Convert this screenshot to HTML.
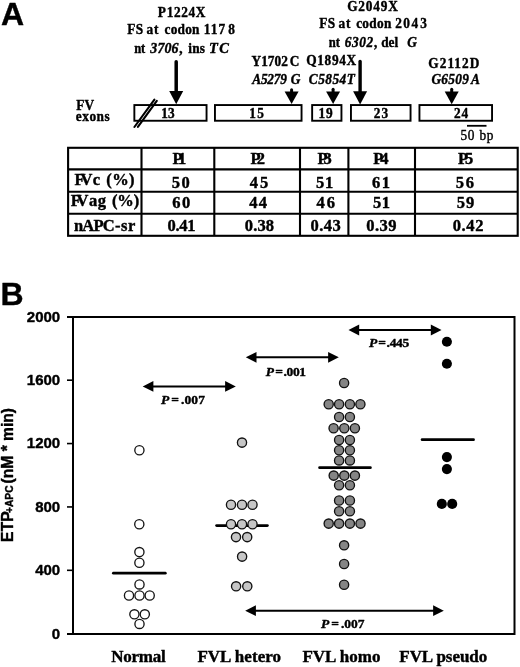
<!DOCTYPE html>
<html><head><meta charset="utf-8"><style>
html,body{margin:0;padding:0;background:#fff;width:520px;height:667px;overflow:hidden}
svg{display:block;filter:grayscale(100%) blur(0.3px)}
text{stroke:#000;stroke-width:0.4px;stroke-linejoin:round}
</style></head><body>
<svg width="520" height="667" viewBox="0 0 520 667">
<rect width="520" height="667" fill="#fff"/>
<text x="0.89" y="25.40" style="font-family:'Liberation Sans',sans-serif;font-weight:bold;font-style:normal;font-size:32px" fill="#000">A</text>
<text transform="translate(157.87,17.30) scale(0.92,1)" style="font-family:'Liberation Serif',serif;font-weight:bold;font-style:normal;font-size:14.5px;letter-spacing:0.69px" fill="#000">P1224X</text>
<text transform="translate(127.17,34.00) scale(0.92,1)" style="font-family:'Liberation Serif',serif;font-weight:bold;font-style:normal;font-size:14.5px;letter-spacing:0.35px" fill="#000">FS</text>
<text transform="translate(146.50,34.00) scale(0.92,1)" style="font-family:'Liberation Serif',serif;font-weight:bold;font-style:normal;font-size:14.5px;letter-spacing:0.94px" fill="#000">at</text>
<text transform="translate(164.54,34.00) scale(0.92,1)" style="font-family:'Liberation Serif',serif;font-weight:bold;font-style:normal;font-size:14.5px;letter-spacing:0.23px" fill="#000">codon</text>
<text transform="translate(203.81,34.00) scale(0.92,1)" style="font-family:'Liberation Serif',serif;font-weight:bold;font-style:normal;font-size:14.5px;letter-spacing:1.13px" fill="#000">117</text>
<text transform="translate(228.34,34.00) scale(0.92,1)" style="font-family:'Liberation Serif',serif;font-weight:bold;font-style:normal;font-size:14.5px" fill="#000">8</text>
<text transform="translate(134.17,52.50) scale(0.87,1)" style="font-family:'Liberation Serif',serif;font-weight:bold;font-style:normal;font-size:14.5px;letter-spacing:-0.13px" fill="#000">nt</text>
<text transform="translate(150.32,52.50) scale(0.96,1)" style="font-family:'Liberation Serif',serif;font-weight:bold;font-style:italic;font-size:14.5px;letter-spacing:0.12px" fill="#000">3706</text>
<text transform="translate(179.33,52.50) scale(0.92,1)" style="font-family:'Liberation Serif',serif;font-weight:bold;font-style:normal;font-size:14.5px" fill="#000">,</text>
<text transform="translate(188.31,52.50) scale(0.92,1)" style="font-family:'Liberation Serif',serif;font-weight:bold;font-style:normal;font-size:14.5px;letter-spacing:0.21px" fill="#000">ins</text>
<text x="208.94" y="52.50" style="font-family:'Liberation Serif',serif;font-weight:bold;font-style:italic;font-size:14.5px;letter-spacing:1.57px" fill="#000">TC</text>
<text transform="translate(347.17,11.30) scale(0.92,1)" style="font-family:'Liberation Serif',serif;font-weight:bold;font-style:normal;font-size:14.5px;letter-spacing:0.87px" fill="#000">G2049X</text>
<text transform="translate(319.17,27.70) scale(0.92,1)" style="font-family:'Liberation Serif',serif;font-weight:bold;font-style:normal;font-size:14.5px;letter-spacing:0.35px" fill="#000">FS</text>
<text transform="translate(338.50,27.70) scale(0.92,1)" style="font-family:'Liberation Serif',serif;font-weight:bold;font-style:normal;font-size:14.5px;letter-spacing:0.94px" fill="#000">at</text>
<text transform="translate(356.14,27.70) scale(0.92,1)" style="font-family:'Liberation Serif',serif;font-weight:bold;font-style:normal;font-size:14.5px;letter-spacing:0.33px" fill="#000">codon</text>
<text transform="translate(395.23,27.70) scale(0.92,1)" style="font-family:'Liberation Serif',serif;font-weight:bold;font-style:normal;font-size:14.5px;letter-spacing:1.57px" fill="#000">204</text>
<text transform="translate(420.28,27.70) scale(0.92,1)" style="font-family:'Liberation Serif',serif;font-weight:bold;font-style:normal;font-size:14.5px" fill="#000">3</text>
<text transform="translate(328.87,46.70) scale(0.87,1)" style="font-family:'Liberation Serif',serif;font-weight:bold;font-style:normal;font-size:14.5px;letter-spacing:-0.02px" fill="#000">nt</text>
<text transform="translate(344.74,46.70) scale(0.92,1)" style="font-family:'Liberation Serif',serif;font-weight:bold;font-style:italic;font-size:14.5px;letter-spacing:0.68px" fill="#000">6302</text>
<text transform="translate(374.03,46.70) scale(0.92,1)" style="font-family:'Liberation Serif',serif;font-weight:bold;font-style:normal;font-size:14.5px" fill="#000">,</text>
<text transform="translate(381.18,46.70) scale(0.92,1)" style="font-family:'Liberation Serif',serif;font-weight:bold;font-style:normal;font-size:14.5px;letter-spacing:0.01px" fill="#000">del</text>
<text transform="translate(407.24,46.70) scale(0.92,1)" style="font-family:'Liberation Serif',serif;font-weight:bold;font-style:italic;font-size:14.5px" fill="#000">G</text>
<text transform="translate(251.57,66.00) scale(0.92,1)" style="font-family:'Liberation Serif',serif;font-weight:bold;font-style:normal;font-size:14.5px;letter-spacing:-0.01px" fill="#000">Y1702</text>
<text transform="translate(289.87,66.00) scale(0.92,1)" style="font-family:'Liberation Serif',serif;font-weight:bold;font-style:normal;font-size:14.5px" fill="#000">C</text>
<text transform="translate(252.19,84.30) scale(0.92,1)" style="font-family:'Liberation Serif',serif;font-weight:bold;font-style:italic;font-size:14.5px;letter-spacing:-0.21px" fill="#000">A5279</text>
<text transform="translate(290.64,84.30) scale(0.92,1)" style="font-family:'Liberation Serif',serif;font-weight:bold;font-style:italic;font-size:14.5px" fill="#000">G</text>
<text transform="translate(306.27,65.00) scale(0.92,1)" style="font-family:'Liberation Serif',serif;font-weight:bold;font-style:normal;font-size:14.5px;letter-spacing:0.70px" fill="#000">Q1894X</text>
<text transform="translate(308.74,83.50) scale(0.92,1)" style="font-family:'Liberation Serif',serif;font-weight:bold;font-style:italic;font-size:14.5px;letter-spacing:0.54px" fill="#000">C5854T</text>
<text transform="translate(428.37,68.00) scale(0.92,1)" style="font-family:'Liberation Serif',serif;font-weight:bold;font-style:normal;font-size:14.5px;letter-spacing:1.09px" fill="#000">G2112D</text>
<text transform="translate(431.44,84.30) scale(0.92,1)" style="font-family:'Liberation Serif',serif;font-weight:bold;font-style:italic;font-size:14.5px;letter-spacing:0.29px" fill="#000">G6509</text>
<text transform="translate(470.99,84.30) scale(0.92,1)" style="font-family:'Liberation Serif',serif;font-weight:bold;font-style:italic;font-size:14.5px" fill="#000">A</text>
<text transform="translate(76.27,109.90) scale(0.92,1)" style="font-family:'Liberation Serif',serif;font-weight:bold;font-style:normal;font-size:14.5px;letter-spacing:0.08px" fill="#000">FV</text>
<text transform="translate(75.84,121.40) scale(0.92,1)" style="font-family:'Liberation Serif',serif;font-weight:bold;font-style:normal;font-size:14.5px;letter-spacing:0.54px" fill="#000">exons</text>
<text transform="translate(460.39,139.90) scale(0.92,1)" style="font-family:'Liberation Serif',serif;font-weight:normal;font-style:normal;font-size:14.5px;letter-spacing:0.85px" fill="#000">50 bp</text>
<rect x="134.35" y="105.05" width="72.19999999999999" height="15.700000000000008" fill="none" stroke="#000" stroke-width="1.9"/>
<rect x="214.95" y="105.05" width="86.6" height="15.700000000000008" fill="none" stroke="#000" stroke-width="1.9"/>
<rect x="312.15" y="105.05" width="29.29999999999999" height="15.700000000000008" fill="none" stroke="#000" stroke-width="1.9"/>
<rect x="350.95" y="105.05" width="59.6" height="15.700000000000008" fill="none" stroke="#000" stroke-width="1.9"/>
<rect x="419.45" y="105.05" width="72.6" height="15.700000000000008" fill="none" stroke="#000" stroke-width="1.9"/>
<text transform="translate(161.21,118.40) scale(0.92,1)" style="font-family:'Liberation Serif',serif;font-weight:bold;font-style:normal;font-size:14.5px;letter-spacing:0.12px" fill="#000">13</text>
<text transform="translate(249.31,118.40) scale(0.92,1)" style="font-family:'Liberation Serif',serif;font-weight:bold;font-style:normal;font-size:14.5px;letter-spacing:1.49px" fill="#000">15</text>
<text transform="translate(318.51,118.40) scale(0.92,1)" style="font-family:'Liberation Serif',serif;font-weight:bold;font-style:normal;font-size:14.5px;letter-spacing:0.99px" fill="#000">19</text>
<text transform="translate(373.73,118.40) scale(0.92,1)" style="font-family:'Liberation Serif',serif;font-weight:bold;font-style:normal;font-size:14.5px;letter-spacing:1.19px" fill="#000">23</text>
<text transform="translate(454.03,118.40) scale(0.92,1)" style="font-family:'Liberation Serif',serif;font-weight:bold;font-style:normal;font-size:14.5px;letter-spacing:0.94px" fill="#000">24</text>
<line x1="134.4" y1="127" x2="154.4" y2="99.6" stroke="#000" stroke-width="2.1" stroke-linecap="round"/>
<line x1="137.9" y1="126.8" x2="156.8" y2="100.8" stroke="#000" stroke-width="2.1" stroke-linecap="round"/>
<line x1="176.2" y1="61.8" x2="176.2" y2="91.9" stroke="#000" stroke-width="3.5" stroke-linecap="round"/>
<polygon points="169.2,90.9 183.2,90.9 176.2,104.3" fill="#000"/>
<line x1="360.1" y1="61.5" x2="360.1" y2="92.3" stroke="#000" stroke-width="3.4" stroke-linecap="round"/>
<polygon points="353.1,91.3 367.1,91.3 360.1,104.4" fill="#000"/>
<line x1="291.6" y1="89.8" x2="291.6" y2="92.5" stroke="#000" stroke-width="3.0" stroke-linecap="round"/>
<polygon points="284.6,91.5 298.6,91.5 291.6,104" fill="#000"/>
<line x1="333.1" y1="89.3" x2="333.1" y2="92.5" stroke="#000" stroke-width="3.0" stroke-linecap="round"/>
<polygon points="326.1,91.5 340.1,91.5 333.1,104" fill="#000"/>
<line x1="451.7" y1="89.3" x2="451.7" y2="92.5" stroke="#000" stroke-width="3.0" stroke-linecap="round"/>
<polygon points="444.7,91.5 458.7,91.5 451.7,104.2" fill="#000"/>
<rect x="467" y="124.9" width="19.5" height="1.8" fill="#000"/>
<rect x="68.1" y="147.8" width="449.6" height="88.0" fill="none" stroke="#000" stroke-width="2.1"/>
<line x1="68.1" y1="169.4" x2="517.7" y2="169.4" stroke="#000" stroke-width="2.1" stroke-linecap="butt"/>
<line x1="68.1" y1="191.7" x2="517.7" y2="191.7" stroke="#000" stroke-width="2.1" stroke-linecap="butt"/>
<line x1="68.1" y1="213.8" x2="517.7" y2="213.8" stroke="#000" stroke-width="2.1" stroke-linecap="butt"/>
<line x1="141.5" y1="147.8" x2="141.5" y2="235.8" stroke="#000" stroke-width="2.1" stroke-linecap="butt"/>
<line x1="214.3" y1="147.8" x2="214.3" y2="235.8" stroke="#000" stroke-width="2.1" stroke-linecap="butt"/>
<line x1="300" y1="147.8" x2="300" y2="235.8" stroke="#000" stroke-width="2.1" stroke-linecap="butt"/>
<line x1="348.4" y1="147.8" x2="348.4" y2="235.8" stroke="#000" stroke-width="2.1" stroke-linecap="butt"/>
<line x1="415" y1="147.8" x2="415" y2="235.8" stroke="#000" stroke-width="2.1" stroke-linecap="butt"/>
<text x="172.39" y="163.80" style="font-family:'Liberation Serif',serif;font-weight:bold;font-style:normal;font-size:16.5px;letter-spacing:-4.43px" fill="#000">P1</text>
<text x="250.39" y="163.80" style="font-family:'Liberation Serif',serif;font-weight:bold;font-style:normal;font-size:16.5px;letter-spacing:-3.61px" fill="#000">P2</text>
<text x="317.49" y="163.80" style="font-family:'Liberation Serif',serif;font-weight:bold;font-style:normal;font-size:16.5px;letter-spacing:-4.04px" fill="#000">P3</text>
<text x="373.29" y="163.80" style="font-family:'Liberation Serif',serif;font-weight:bold;font-style:normal;font-size:16.5px;letter-spacing:-3.19px" fill="#000">P4</text>
<text x="458.09" y="163.80" style="font-family:'Liberation Serif',serif;font-weight:bold;font-style:normal;font-size:16.5px;letter-spacing:-3.18px" fill="#000">P5</text>
<text x="74.59" y="184.80" style="font-family:'Liberation Serif',serif;font-weight:bold;font-style:normal;font-size:16.5px;letter-spacing:-4.20px" fill="#000">FV</text>
<text x="92.84" y="184.80" style="font-family:'Liberation Serif',serif;font-weight:bold;font-style:normal;font-size:16.5px" fill="#000">c</text>
<text x="106.35" y="184.80" style="font-family:'Liberation Serif',serif;font-weight:bold;font-style:normal;font-size:16.5px;letter-spacing:0.30px" fill="#000">(%)</text>
<text x="70.69" y="206.30" style="font-family:'Liberation Serif',serif;font-weight:bold;font-style:normal;font-size:16.5px;letter-spacing:-4.30px" fill="#000">FV</text>
<text x="88.94" y="206.30" style="font-family:'Liberation Serif',serif;font-weight:bold;font-style:normal;font-size:16.5px;letter-spacing:0.45px" fill="#000">ag</text>
<text x="112.05" y="206.30" style="font-family:'Liberation Serif',serif;font-weight:bold;font-style:normal;font-size:16.5px;letter-spacing:-0.20px" fill="#000">(%)</text>
<text x="73.96" y="231.10" style="font-family:'Liberation Serif',serif;font-weight:bold;font-style:normal;font-size:16.5px;letter-spacing:-0.78px" fill="#000">nAPC</text>
<text x="115.08" y="231.10" style="font-family:'Liberation Serif',serif;font-weight:bold;font-style:normal;font-size:16.5px;letter-spacing:0.47px" fill="#000">-sr</text>
<text x="171.71" y="187.80" style="font-family:'Liberation Serif',serif;font-weight:bold;font-style:normal;font-size:16.5px;letter-spacing:1.61px" fill="#000">50</text>
<text x="249.75" y="187.80" style="font-family:'Liberation Serif',serif;font-weight:bold;font-style:normal;font-size:16.5px;letter-spacing:2.07px" fill="#000">45</text>
<text x="316.01" y="187.80" style="font-family:'Liberation Serif',serif;font-weight:bold;font-style:normal;font-size:16.5px;letter-spacing:0.67px" fill="#000">51</text>
<text x="371.94" y="187.80" style="font-family:'Liberation Serif',serif;font-weight:bold;font-style:normal;font-size:16.5px;letter-spacing:1.64px" fill="#000">61</text>
<text x="455.71" y="187.80" style="font-family:'Liberation Serif',serif;font-weight:bold;font-style:normal;font-size:16.5px;letter-spacing:1.89px" fill="#000">56</text>
<text x="172.34" y="208.10" style="font-family:'Liberation Serif',serif;font-weight:bold;font-style:normal;font-size:16.5px;letter-spacing:1.48px" fill="#000">60</text>
<text x="249.35" y="208.10" style="font-family:'Liberation Serif',serif;font-weight:bold;font-style:normal;font-size:16.5px;letter-spacing:1.06px" fill="#000">44</text>
<text x="316.45" y="208.10" style="font-family:'Liberation Serif',serif;font-weight:bold;font-style:normal;font-size:16.5px;letter-spacing:2.15px" fill="#000">46</text>
<text x="372.91" y="208.10" style="font-family:'Liberation Serif',serif;font-weight:bold;font-style:normal;font-size:16.5px;letter-spacing:0.67px" fill="#000">51</text>
<text x="456.71" y="208.10" style="font-family:'Liberation Serif',serif;font-weight:bold;font-style:normal;font-size:16.5px;letter-spacing:1.01px" fill="#000">59</text>
<text x="167.38" y="230.50" style="font-family:'Liberation Serif',serif;font-weight:bold;font-style:normal;font-size:16.5px;letter-spacing:-0.23px" fill="#000">0.41</text>
<text x="244.78" y="230.50" style="font-family:'Liberation Serif',serif;font-weight:bold;font-style:normal;font-size:16.5px;letter-spacing:0.14px" fill="#000">0.38</text>
<text x="310.58" y="230.50" style="font-family:'Liberation Serif',serif;font-weight:bold;font-style:normal;font-size:16.5px;letter-spacing:0.44px" fill="#000">0.43</text>
<text x="366.28" y="230.50" style="font-family:'Liberation Serif',serif;font-weight:bold;font-style:normal;font-size:16.5px;letter-spacing:0.46px" fill="#000">0.39</text>
<text x="452.78" y="230.50" style="font-family:'Liberation Serif',serif;font-weight:bold;font-style:normal;font-size:16.5px;letter-spacing:0.58px" fill="#000">0.42</text>
<text x="0.58" y="304.60" style="font-family:'Liberation Sans',sans-serif;font-weight:bold;font-style:normal;font-size:32px" fill="#000">B</text>
<rect x="73" y="317" width="441.5" height="317" fill="none" stroke="#000" stroke-width="2"/>
<line x1="67" y1="634" x2="73" y2="634" stroke="#000" stroke-width="2" stroke-linecap="butt"/>
<text x="51.85" y="638.50" style="font-family:'Liberation Sans',sans-serif;font-weight:bold;font-style:normal;font-size:15px" fill="#000">0</text>
<line x1="67" y1="570.32" x2="73" y2="570.32" stroke="#000" stroke-width="1.6" stroke-linecap="butt"/>
<text x="35.16" y="575.12" style="font-family:'Liberation Sans',sans-serif;font-weight:bold;font-style:normal;font-size:15px" fill="#000">400</text>
<line x1="67" y1="506.94" x2="73" y2="506.94" stroke="#000" stroke-width="1.6" stroke-linecap="butt"/>
<text x="35.16" y="511.74" style="font-family:'Liberation Sans',sans-serif;font-weight:bold;font-style:normal;font-size:15px" fill="#000">800</text>
<line x1="67" y1="443.56" x2="73" y2="443.56" stroke="#000" stroke-width="1.6" stroke-linecap="butt"/>
<text x="26.85" y="448.36" style="font-family:'Liberation Sans',sans-serif;font-weight:bold;font-style:normal;font-size:15px" fill="#000">1200</text>
<line x1="67" y1="380.18" x2="73" y2="380.18" stroke="#000" stroke-width="1.6" stroke-linecap="butt"/>
<text x="26.85" y="384.98" style="font-family:'Liberation Sans',sans-serif;font-weight:bold;font-style:normal;font-size:15px" fill="#000">1600</text>
<line x1="67" y1="317" x2="73" y2="317" stroke="#000" stroke-width="2" stroke-linecap="butt"/>
<text x="26.85" y="321.60" style="font-family:'Liberation Sans',sans-serif;font-weight:bold;font-style:normal;font-size:15px" fill="#000">2000</text>
<g transform="translate(12.9,542) rotate(-90)"><text x="0" y="0" style="font-family:'Liberation Sans',sans-serif;font-weight:bold;font-size:15.8px">ETP</text><text x="28.95" y="0.3" style="font-family:'Liberation Sans',sans-serif;font-weight:bold;font-size:10.25px">+APC</text><text x="58.6" y="0" style="font-family:'Liberation Sans',sans-serif;font-weight:bold;font-size:15.6px">(nM * min)</text></g>
<text x="111.19" y="661.50" style="font-family:'Liberation Serif',serif;font-weight:bold;font-style:normal;font-size:17px;letter-spacing:-0.25px" fill="#000">Normal</text>
<text x="197.39" y="661.50" style="font-family:'Liberation Serif',serif;font-weight:bold;font-style:normal;font-size:17px;letter-spacing:0.04px" fill="#000">FVL hetero</text>
<text x="302.39" y="661.50" style="font-family:'Liberation Serif',serif;font-weight:bold;font-style:normal;font-size:17px;letter-spacing:0.03px" fill="#000">FVL homo</text>
<text x="399.29" y="661.50" style="font-family:'Liberation Serif',serif;font-weight:bold;font-style:normal;font-size:17px;letter-spacing:-0.04px" fill="#000">FVL pseudo</text>
<line x1="113.4" y1="573.2" x2="165.3" y2="573.2" stroke="#000" stroke-width="2.8" stroke-linecap="round"/>
<line x1="216.6" y1="525.6" x2="267.4" y2="525.6" stroke="#000" stroke-width="2.8" stroke-linecap="round"/>
<line x1="319.6" y1="467.7" x2="370.4" y2="467.7" stroke="#000" stroke-width="2.8" stroke-linecap="round"/>
<line x1="422.1" y1="439.7" x2="473.5" y2="439.7" stroke="#000" stroke-width="2.8" stroke-linecap="round"/>
<circle cx="139.4" cy="450.3" r="4.6" fill="#fff" stroke="#151515" stroke-width="1.35"/>
<circle cx="139.3" cy="524.2" r="4.6" fill="#fff" stroke="#151515" stroke-width="1.35"/>
<circle cx="139.4" cy="552.1" r="4.6" fill="#fff" stroke="#151515" stroke-width="1.35"/>
<circle cx="139.4" cy="562.7" r="4.6" fill="#fff" stroke="#151515" stroke-width="1.35"/>
<circle cx="139.5" cy="584.4" r="4.6" fill="#fff" stroke="#151515" stroke-width="1.35"/>
<circle cx="129" cy="595.5" r="4.6" fill="#fff" stroke="#151515" stroke-width="1.35"/>
<circle cx="139.5" cy="595.5" r="4.6" fill="#fff" stroke="#151515" stroke-width="1.35"/>
<circle cx="149.7" cy="595.5" r="4.6" fill="#fff" stroke="#151515" stroke-width="1.35"/>
<circle cx="134.4" cy="614.3" r="4.6" fill="#fff" stroke="#151515" stroke-width="1.35"/>
<circle cx="144.8" cy="614.3" r="4.6" fill="#fff" stroke="#151515" stroke-width="1.35"/>
<circle cx="139.5" cy="623.9" r="4.6" fill="#fff" stroke="#151515" stroke-width="1.35"/>
<circle cx="242" cy="442.6" r="4.6" fill="#c6c6c6" stroke="#111" stroke-width="1.35"/>
<circle cx="231" cy="504.7" r="4.6" fill="#c6c6c6" stroke="#111" stroke-width="1.35"/>
<circle cx="242" cy="504.7" r="4.6" fill="#c6c6c6" stroke="#111" stroke-width="1.35"/>
<circle cx="252.5" cy="504.7" r="4.6" fill="#c6c6c6" stroke="#111" stroke-width="1.35"/>
<circle cx="231" cy="524.2" r="4.6" fill="#c6c6c6" stroke="#111" stroke-width="1.35"/>
<circle cx="242" cy="524.2" r="4.6" fill="#c6c6c6" stroke="#111" stroke-width="1.35"/>
<circle cx="252.5" cy="524.2" r="4.6" fill="#c6c6c6" stroke="#111" stroke-width="1.35"/>
<circle cx="236" cy="537.1" r="4.6" fill="#c6c6c6" stroke="#111" stroke-width="1.35"/>
<circle cx="247.2" cy="537.1" r="4.6" fill="#c6c6c6" stroke="#111" stroke-width="1.35"/>
<circle cx="242.1" cy="556.6" r="4.6" fill="#c6c6c6" stroke="#111" stroke-width="1.35"/>
<circle cx="236.1" cy="586.3" r="4.6" fill="#c6c6c6" stroke="#111" stroke-width="1.35"/>
<circle cx="247.3" cy="586.3" r="4.6" fill="#c6c6c6" stroke="#111" stroke-width="1.35"/>
<circle cx="344.1" cy="383" r="4.6" fill="#858585" stroke="#111" stroke-width="1.35"/>
<circle cx="328.7" cy="404.3" r="4.6" fill="#858585" stroke="#111" stroke-width="1.35"/>
<circle cx="339.1" cy="404.3" r="4.6" fill="#858585" stroke="#111" stroke-width="1.35"/>
<circle cx="349.9" cy="404.3" r="4.6" fill="#858585" stroke="#111" stroke-width="1.35"/>
<circle cx="360.4" cy="404.3" r="4.6" fill="#858585" stroke="#111" stroke-width="1.35"/>
<circle cx="339.1" cy="417" r="4.6" fill="#858585" stroke="#111" stroke-width="1.35"/>
<circle cx="349.9" cy="417" r="4.6" fill="#858585" stroke="#111" stroke-width="1.35"/>
<circle cx="333.6" cy="428.3" r="4.6" fill="#858585" stroke="#111" stroke-width="1.35"/>
<circle cx="344.3" cy="428.3" r="4.6" fill="#858585" stroke="#111" stroke-width="1.35"/>
<circle cx="354.9" cy="428.3" r="4.6" fill="#858585" stroke="#111" stroke-width="1.35"/>
<circle cx="339.1" cy="440" r="4.6" fill="#858585" stroke="#111" stroke-width="1.35"/>
<circle cx="349.9" cy="440" r="4.6" fill="#858585" stroke="#111" stroke-width="1.35"/>
<circle cx="339.1" cy="450.2" r="4.6" fill="#858585" stroke="#111" stroke-width="1.35"/>
<circle cx="349.9" cy="450.2" r="4.6" fill="#858585" stroke="#111" stroke-width="1.35"/>
<circle cx="339.1" cy="460.4" r="4.6" fill="#858585" stroke="#111" stroke-width="1.35"/>
<circle cx="349.9" cy="460.4" r="4.6" fill="#858585" stroke="#111" stroke-width="1.35"/>
<circle cx="333.7" cy="475.6" r="4.6" fill="#858585" stroke="#111" stroke-width="1.35"/>
<circle cx="344.3" cy="475.6" r="4.6" fill="#858585" stroke="#111" stroke-width="1.35"/>
<circle cx="354.9" cy="475.6" r="4.6" fill="#858585" stroke="#111" stroke-width="1.35"/>
<circle cx="339.1" cy="485.3" r="4.6" fill="#858585" stroke="#111" stroke-width="1.35"/>
<circle cx="349.9" cy="485.3" r="4.6" fill="#858585" stroke="#111" stroke-width="1.35"/>
<circle cx="339.1" cy="500.5" r="4.6" fill="#858585" stroke="#111" stroke-width="1.35"/>
<circle cx="349.9" cy="500.5" r="4.6" fill="#858585" stroke="#111" stroke-width="1.35"/>
<circle cx="339.1" cy="511.3" r="4.6" fill="#858585" stroke="#111" stroke-width="1.35"/>
<circle cx="349.9" cy="511.3" r="4.6" fill="#858585" stroke="#111" stroke-width="1.35"/>
<circle cx="328.7" cy="523.6" r="4.6" fill="#858585" stroke="#111" stroke-width="1.35"/>
<circle cx="339.1" cy="523.6" r="4.6" fill="#858585" stroke="#111" stroke-width="1.35"/>
<circle cx="349.9" cy="523.6" r="4.6" fill="#858585" stroke="#111" stroke-width="1.35"/>
<circle cx="360.5" cy="523.6" r="4.6" fill="#858585" stroke="#111" stroke-width="1.35"/>
<circle cx="344.1" cy="545.3" r="4.6" fill="#858585" stroke="#111" stroke-width="1.35"/>
<circle cx="344.1" cy="564" r="4.6" fill="#858585" stroke="#111" stroke-width="1.35"/>
<circle cx="344.1" cy="584.7" r="4.6" fill="#858585" stroke="#111" stroke-width="1.35"/>
<circle cx="446.9" cy="341.8" r="5.05" fill="#000"/>
<circle cx="446.9" cy="363.8" r="5.05" fill="#000"/>
<circle cx="446.9" cy="457.1" r="5.05" fill="#000"/>
<circle cx="446.9" cy="469.1" r="5.05" fill="#000"/>
<circle cx="441.8" cy="503.9" r="5.05" fill="#000"/>
<circle cx="452.2" cy="503.9" r="5.05" fill="#000"/>
<line x1="152.39999999999998" y1="386.4" x2="226.10000000000002" y2="386.4" stroke="#000" stroke-width="2" stroke-linecap="butt"/>
<polygon points="142.7,386.4 153.39999999999998,381.0 153.39999999999998,391.79999999999995" fill="#000"/>
<polygon points="235.8,386.4 225.10000000000002,381.0 225.10000000000002,391.79999999999995" fill="#000"/>
<line x1="255.5" y1="357.3" x2="329.1" y2="357.3" stroke="#000" stroke-width="2" stroke-linecap="butt"/>
<polygon points="245.8,357.3 256.5,351.90000000000003 256.5,362.7" fill="#000"/>
<polygon points="338.8,357.3 328.1,351.90000000000003 328.1,362.7" fill="#000"/>
<line x1="358.2" y1="330" x2="431.8" y2="330" stroke="#000" stroke-width="2" stroke-linecap="butt"/>
<polygon points="348.5,330 359.2,324.6 359.2,335.4" fill="#000"/>
<polygon points="441.5,330 430.8,324.6 430.8,335.4" fill="#000"/>
<line x1="254.89999999999998" y1="610.7" x2="434.1" y2="610.7" stroke="#000" stroke-width="2" stroke-linecap="butt"/>
<polygon points="245.2,610.7 255.89999999999998,605.3000000000001 255.89999999999998,616.1" fill="#000"/>
<polygon points="443.8,610.7 433.1,605.3000000000001 433.1,616.1" fill="#000"/>
<text x="160.90" y="404.30" style="font-family:'Liberation Serif',serif;font-weight:bold;font-style:italic;font-size:13.5px" fill="#000">P</text>
<text x="171.21" y="404.30" style="font-family:'Liberation Serif',serif;font-weight:bold;font-style:normal;font-size:13.5px" fill="#000">=</text>
<text x="180.98" y="404.30" style="font-family:'Liberation Serif',serif;font-weight:bold;font-style:normal;font-size:13.5px;letter-spacing:0.10px" fill="#000">.007</text>
<text x="265.70" y="375.50" style="font-family:'Liberation Serif',serif;font-weight:bold;font-style:italic;font-size:13.5px" fill="#000">P</text>
<text x="275.31" y="375.50" style="font-family:'Liberation Serif',serif;font-weight:bold;font-style:normal;font-size:13.5px" fill="#000">=</text>
<text x="283.58" y="375.50" style="font-family:'Liberation Serif',serif;font-weight:bold;font-style:normal;font-size:13.5px;letter-spacing:-0.41px" fill="#000">.001</text>
<text x="368.90" y="347.00" style="font-family:'Liberation Serif',serif;font-weight:bold;font-style:italic;font-size:13.5px" fill="#000">P</text>
<text x="378.31" y="347.00" style="font-family:'Liberation Serif',serif;font-weight:bold;font-style:normal;font-size:13.5px" fill="#000">=</text>
<text x="386.58" y="347.00" style="font-family:'Liberation Serif',serif;font-weight:bold;font-style:normal;font-size:13.5px;letter-spacing:-0.30px" fill="#000">.445</text>
<text x="320.90" y="627.50" style="font-family:'Liberation Serif',serif;font-weight:bold;font-style:italic;font-size:13.5px" fill="#000">P</text>
<text x="331.21" y="627.50" style="font-family:'Liberation Serif',serif;font-weight:bold;font-style:normal;font-size:13.5px" fill="#000">=</text>
<text x="340.98" y="627.50" style="font-family:'Liberation Serif',serif;font-weight:bold;font-style:normal;font-size:13.5px;letter-spacing:-0.03px" fill="#000">.007</text>
</svg></body></html>
